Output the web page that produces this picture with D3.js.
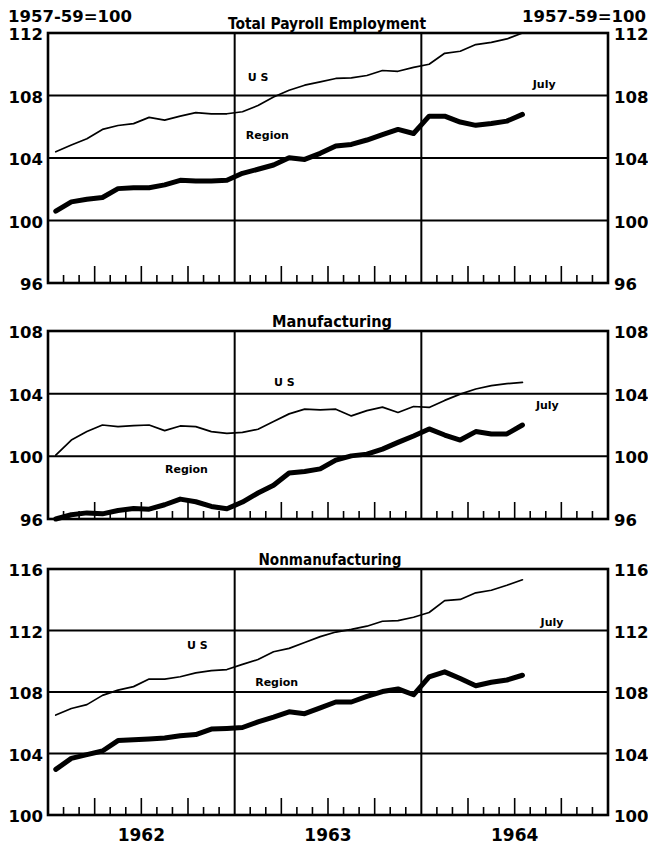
<!DOCTYPE html>
<html><head><meta charset="utf-8">
<script src="https://cdn.jsdelivr.net/npm/d3@7"></script>
<style>body{margin:0;background:#fff}svg{display:block}</style>
</head><body>
<script>
// ---- data ----
const months = ["1962-01","1962-02","1962-03","1962-04","1962-05","1962-06","1962-07","1962-08","1962-09","1962-10","1962-11","1962-12",
"1963-01","1963-02","1963-03","1963-04","1963-05","1963-06","1963-07","1963-08","1963-09","1963-10","1963-11","1963-12",
"1964-01","1964-02","1964-03","1964-04","1964-05","1964-06","1964-07"];
const years = ["1962","1963","1964"];

const totalUS = [104.4,104.83,105.23,105.83,106.08,106.2,106.6,106.42,106.68,106.9,106.83,106.83,106.96,107.36,107.9,108.34,108.66,108.87,109.09,109.13,109.28,109.6,109.55,109.8,110.0,110.7,110.83,111.26,111.4,111.62,112.0];
const totalRegion = [100.6,101.19,101.36,101.47,102.04,102.1,102.1,102.28,102.57,102.53,102.53,102.57,103.02,103.28,103.55,104.02,103.91,104.3,104.77,104.87,105.15,105.49,105.83,105.57,106.68,106.68,106.3,106.09,106.21,106.36,106.79];
const manuUS = [100.08,101.04,101.58,102.0,101.9,101.96,102.0,101.64,101.94,101.9,101.58,101.47,101.53,101.73,102.22,102.71,103.01,102.97,103.01,102.58,102.92,103.14,102.8,103.18,103.12,103.57,103.97,104.3,104.51,104.64,104.72];
const manuRegion = [96.0,96.27,96.39,96.33,96.54,96.67,96.63,96.91,97.27,97.1,96.8,96.65,97.08,97.66,98.15,98.94,99.03,99.2,99.76,100.03,100.14,100.46,100.89,101.3,101.75,101.36,101.04,101.58,101.43,101.43,102.0];
const nonUS = [106.5,106.93,107.18,107.78,108.12,108.35,108.84,108.84,108.99,109.24,109.39,109.46,109.8,110.11,110.62,110.84,111.22,111.6,111.9,112.07,112.28,112.6,112.64,112.86,113.17,113.94,114.02,114.45,114.62,114.94,115.3];
const nonRegion = [102.97,103.68,103.93,104.16,104.84,104.89,104.95,105.01,105.16,105.23,105.59,105.63,105.69,106.06,106.37,106.71,106.59,106.97,107.35,107.35,107.71,108.03,108.2,107.82,108.99,109.31,108.88,108.41,108.63,108.78,109.09];

const totalTicks = [96,100,104,108,112];
const manuTicks = [96,100,104,108];
const nonTicks = [100,104,108,112,116];

const titles = ["Total Payroll Employment","Manufacturing","Nonmanufacturing"];
const baseLabel = "1957-59=100";
// label annotations: [text, month position, value]
const totalNotes = [["U S",13.5,109.2],["Region",14.1,105.5],["July",31.9,108.75]];
const manuNotes = [["U S",15.2,104.72],["Region",8.9,99.17],["July",32.1,103.3]];
const nonNotes = [["U S",9.6,111.05],["Region",14.7,108.67],["July",32.4,112.53]];

// ---- layout ----
const W = 648, H = 846;
const L = 48, R = 608;
const panels = [
  {title:titles[0], ticks:totalTicks, us:totalUS, region:totalRegion, notes:totalNotes, top:33, bottom:283, tw:198, tc:327},
  {title:titles[1], ticks:manuTicks, us:manuUS, region:manuRegion, notes:manuNotes, top:331, bottom:519, tw:120, tc:332},
  {title:titles[2], ticks:nonTicks, us:nonUS, region:nonRegion, notes:nonNotes, top:569, bottom:815, tw:143, tc:330}
];

const svg = d3.select("body").append("svg").attr("width",W).attr("height",H);
const x = d3.scaleLinear().domain([0, years.length*12]).range([L, R]);
const numFont = "'DejaVu Sans', sans-serif";

svg.append("text").attr("x",8).attr("y",22).attr("font-family",numFont).attr("font-weight","bold")
  .attr("font-size",16.5).text(baseLabel);
svg.append("text").attr("x",646).attr("y",22).attr("text-anchor","end").attr("font-family",numFont).attr("font-weight","bold")
  .attr("font-size",16.5).text(baseLabel);

panels.forEach(p => {
  const y = d3.scaleLinear().domain([p.ticks[0], p.ticks[p.ticks.length-1]]).range([p.bottom, p.top]);
  const g = svg.append("g");

  // gridlines
  g.selectAll(".grid").data(p.ticks).join("line")
    .attr("x1",L).attr("x2",R).attr("y1",d=>y(d)).attr("y2",d=>y(d))
    .attr("stroke","#000").attr("stroke-width",2);
  // year dividers
  g.selectAll(".yl").data(d3.range(1, years.length)).join("line")
    .attr("x1",d=>x(d*12)).attr("x2",d=>x(d*12)).attr("y1",p.top).attr("y2",p.bottom)
    .attr("stroke","#000").attr("stroke-width",2);
  // month ticks
  const mt = d3.range(1, years.length*12).filter(m => m % 12 !== 0);
  g.selectAll(".mt").data(mt).join("line")
    .attr("x1",d=>x(d)).attr("x2",d=>x(d)).attr("y1",p.bottom)
    .attr("y2",d=> p.bottom - (d % 3 === 0 ? 17 : 8))
    .attr("stroke","#000").attr("stroke-width",1.6);
  // border
  g.append("rect").attr("x",L).attr("y",p.top).attr("width",R-L).attr("height",p.bottom-p.top)
    .attr("fill","none").attr("stroke","#000").attr("stroke-width",2.6);

  // axis labels
  g.append("g").attr("transform",`translate(${L-4},0)`)
    .call(d3.axisLeft(y).tickValues(p.ticks).tickSize(0).tickPadding(1))
    .call(a => { a.select(".domain").remove();
      a.selectAll("text").attr("font-family",numFont).attr("font-weight","bold").attr("font-size",16.5).attr("fill","#000").attr("dy","0.4em"); });
  g.append("g").attr("transform",`translate(${R+5},0)`)
    .call(d3.axisRight(y).tickValues(p.ticks).tickSize(0).tickPadding(1))
    .call(a => { a.select(".domain").remove();
      a.selectAll("text").attr("font-family",numFont).attr("font-weight","bold").attr("font-size",16.5).attr("fill","#000").attr("dy","0.4em"); });

  // title
  g.append("text").attr("x",p.tc).attr("y",p.top-4).attr("text-anchor","middle")
    .attr("font-family","'DejaVu Sans Condensed','DejaVu Sans',sans-serif").attr("font-weight","bold")
    .attr("font-size",16).attr("textLength",p.tw).attr("lengthAdjust","spacingAndGlyphs").text(p.title);

  // lines
  const line = d3.line().x((d,i)=>x(i+0.5)).y(d=>y(d)).curve(d3.curveLinear);
  g.append("path").datum(p.us).attr("d",line).attr("fill","none").attr("stroke","#000")
    .attr("stroke-width",1.7).attr("stroke-linejoin","round").attr("stroke-linecap","round");
  g.append("path").datum(p.region).attr("d",line).attr("fill","none").attr("stroke","#000")
    .attr("stroke-width",5).attr("stroke-linejoin","round").attr("stroke-linecap","round");

  // notes
  g.selectAll(".note").data(p.notes).join("text")
    .attr("x",d=>x(d[1])).attr("y",d=>y(d[2])).attr("dy","0.36em").attr("text-anchor","middle")
    .attr("font-family",numFont).attr("font-weight","bold").attr("font-size",11).text(d=>d[0]);
});

// year labels
svg.selectAll(".yr").data(years).join("text")
  .attr("x",(d,i)=>x(i*12+6)).attr("y",841).attr("text-anchor","middle")
  .attr("font-family",numFont).attr("font-weight","bold").attr("font-size",17).text(d=>d);
</script>
</body></html>
